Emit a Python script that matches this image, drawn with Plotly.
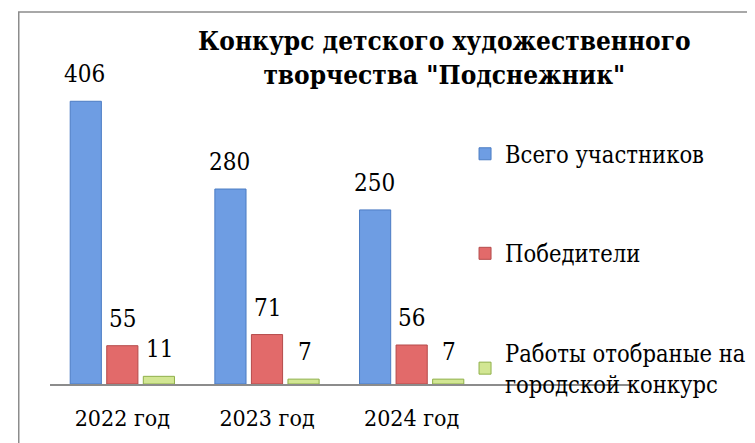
import plotly.graph_objects as go

categories = ["2022 год", "2023 год", "2024 год"]
series_names = ["Всего участников", "Победители", "Работы отобраные на<br>городской конкурс"]
total = [406, 280, 250]
winners = [55, 71, 56]
selected = [11, 7, 7]
title_text = "<b>Конкурс детского художественного<br>творчества \"Подснежник\"</b>"

values = [total, winners, selected]
colors = ["#6E9DE3", "#E26A6A", "#D2E693"]
line_colors = ["#4C7CC4", "#B54B4B", "#8FB04A"]
offsets = [-37.5, 0, 37.5]

FONT = "DejaVu Serif Condensed, DejaVu Serif"
W, H = 755, 443
OFF = 8  # page body margin offset
# plot area in screen coordinates: x 50..647, y 40..384
L = 50 - OFF
R = W - (647 - OFF)
T = 40 - OFF
B = H - (384 - OFF)

fig = go.Figure()
for i, (name, vals) in enumerate(zip(series_names, values)):
    fig.add_trace(go.Bar(
        x=categories, y=vals, name=name,
        legendgroup=f"g{i}",
        marker=dict(color=colors[i], line=dict(color=line_colors[i], width=1)),
        hoverinfo="x+y",
    ))

annotations = []
for i, vals in enumerate(values):
    for c, v in zip(categories, vals):
        annotations.append(dict(
            x=c, y=v, xref="x", yref="y", text=str(v), showarrow=False,
            xshift=offsets[i], yshift=11, yanchor="bottom", xanchor="center",
            font=dict(family=FONT, size=24, color="black"),
        ))

pw = W - L - R
ph = H - T - B
def px_x(p):
    return (p - OFF - L) / pw
def px_y(p):
    return (H - B - (p - OFF)) / ph

annotations.append(dict(
    text=title_text, xref="paper", yref="paper", x=px_x(454), y=px_y(24),
    xanchor="center", yanchor="top", showarrow=False, align="center",
    font=dict(family=FONT, size=26, color="black"),
))

fig.update_layout(
    width=W, height=H,
    margin=dict(l=L, r=R, t=T, b=B, pad=0),
    paper_bgcolor="white", plot_bgcolor="white",
    font=dict(family=FONT, size=23.5, color="black"),
    barmode="group", bargap=0.242, bargroupgap=0.147,
    showlegend=True,
    legend=dict(x=px_x(475), y=px_y(132), xanchor="left", yanchor="top",
                font=dict(family=FONT, size=23.5, color="black"),
                tracegroupgap=66, bgcolor="rgba(0,0,0,0)", itemclick=False),
    xaxis=dict(type="category", range=[-0.5, 3.53], showline=True,
               linecolor="#8C8C8C", linewidth=2, showgrid=False, ticks="",
               ticklabelstandoff=12,
               tickfont=dict(family=FONT, size=23, color="black")),
    yaxis=dict(visible=False, range=[0, 494], showgrid=False),
    annotations=annotations,
    shapes=[dict(type="rect", xref="paper", yref="paper",
                 x0=px_x(18), x1=px_x(775), y0=px_y(470), y1=px_y(12),
                 line=dict(color="#8C8C8C", width=1.5), fillcolor="rgba(0,0,0,0)",
                 layer="below")],
)

fig.write_html("out.html")
